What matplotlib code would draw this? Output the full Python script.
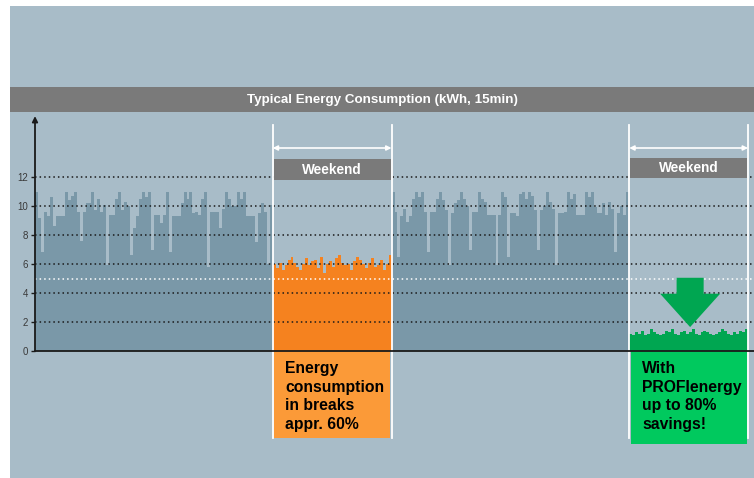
import numpy as np
import matplotlib.pyplot as plt
from matplotlib.patches import Rectangle

plt.rcParams['font.family'] = ['Liberation Sans', 'DejaVu Sans']

# 15-min energy readings (kWh): weekday, weekend, weekday, weekend
weekday1 = [11.0, 9.2, 6.8, 9.6, 9.3, 10.6, 8.6, 9.3, 9.3, 9.3,
            11.0, 10.4, 10.7, 11.0, 9.6, 7.6, 9.6, 10.2, 10.2, 11.0,
            9.7, 10.5, 9.6, 10.1, 5.9, 9.4, 9.4, 10.5, 11.0, 9.7,
            10.3, 10.0, 6.6, 8.5, 9.3, 10.5, 11.0, 10.6, 11.0, 7.0,
            9.4, 9.4, 8.8, 9.4, 11.0, 6.8, 9.3, 9.3, 9.3, 10.2,
            11.0, 10.5, 11.0, 9.5, 9.6, 9.4, 10.5, 11.0, 5.8, 9.6,
            9.6, 9.6, 8.5, 9.8, 11.0, 10.5, 10.0, 10.0, 11.0, 10.5,
            11.0, 9.3, 9.3, 9.3, 7.5, 9.5, 10.2, 9.6, 6.0, 10.1]
weekend1 = [6.0, 5.7, 6.1, 5.6, 5.9, 6.3, 6.5, 6.1, 5.8, 5.6,
            6.0, 6.4, 5.9, 6.2, 6.3, 5.7, 6.5, 5.4, 6.0, 6.2,
            5.8, 6.4, 6.6, 6.1, 5.9, 6.0, 5.6, 6.2, 6.5, 6.3,
            6.0, 5.7, 6.1, 6.4, 5.8, 5.9, 6.3, 5.6, 6.0, 6.6]
weekday2 = [11.0, 9.6, 6.5, 9.3, 9.8, 8.9, 9.3, 10.5, 11.0, 10.6,
            11.0, 9.6, 6.8, 9.6, 9.6, 10.5, 11.0, 10.4, 9.7, 5.9,
            9.5, 10.2, 10.4, 11.0, 10.5, 10.0, 7.0, 9.6, 9.6, 11.0,
            10.5, 10.3, 9.4, 9.4, 9.4, 5.9, 9.4, 11.0, 10.6, 6.5,
            9.5, 9.5, 9.3, 10.8, 11.0, 10.5, 11.0, 10.7, 9.7, 7.0,
            9.7, 10.0, 11.0, 10.3, 9.8, 5.9, 9.5, 9.5, 9.6, 11.0,
            10.5, 10.8, 9.4, 9.4, 9.4, 11.0, 10.6, 11.0, 9.9, 9.5,
            9.5, 10.2, 9.4, 10.3, 9.8, 6.8, 9.5, 10.0, 9.4, 11.0]
weekend2 = [1.2, 1.1, 1.3, 1.2, 1.4, 1.1, 1.2, 1.5, 1.3, 1.2,
            1.1, 1.2, 1.4, 1.3, 1.5, 1.2, 1.1, 1.3, 1.4, 1.2,
            1.3, 1.5, 1.2, 1.1, 1.3, 1.4, 1.3, 1.2, 1.1, 1.2,
            1.3, 1.5, 1.4, 1.2, 1.1, 1.3, 1.2, 1.4, 1.3, 1.5]

yticks = [0, 2, 4, 6, 8, 10, 12]
title = 'Typical Energy Consumption (kWh, 15min)'
note_break = 'Energy\nconsumption\nin breaks\nappr. 60%'
note_save = 'With\nPROFIenergy\nup to 80%\nsavings!'

bg = '#a8bcc8'
c_week = '#7a98a8'
c_orange = '#f5821f'
c_orange_box = '#fb9a38'
c_green = '#00a651'
c_green_box = '#00c95e'
c_grey = '#7a7a7a'

fig = plt.figure(figsize=(7.54, 4.78), dpi=100, facecolor='white')
fig.patches.append(Rectangle((10 / 754, 0), 1, 472 / 478, transform=fig.transFigure,
                             facecolor=bg, edgecolor='none', zorder=-10))
# title bar
fig.patches.append(Rectangle((10 / 754, 1 - 112 / 478), 1, 25 / 478, transform=fig.transFigure,
                             facecolor=c_grey, edgecolor='none', zorder=-5))
fig.text((10 + 754) / 2 / 754, 1 - 99.5 / 478, title, color='white', fontsize=9.6,
         fontweight='bold', ha='center', va='center')

ax = fig.add_axes([35 / 754, 1 - 351 / 478, 719 / 754, 232 / 478])
ax.set_facecolor('none')
ax.set_xlim(0, 242)
ax.set_ylim(0, 16)

n1, n2 = len(weekday1), len(weekend1)
x_wd1 = np.arange(n1)
x_we1 = n1 + np.arange(n2)
x_wd2 = n1 + n2 + np.arange(len(weekday2))
x_we2 = 2 * n1 + n2 + np.arange(len(weekend2))

kw = dict(width=1.0, align='edge', linewidth=0, zorder=2)
ax.bar(x_wd1, weekday1, color=c_week, **kw)
ax.bar(x_we1, weekend1, color=c_orange, **kw)
ax.bar(x_wd2, weekday2, color=c_week, **kw)
ax.bar(x_we2, weekend2, color=c_green, **kw)

# dotted grid
for v in yticks[1:]:
    ax.axhline(v, color='#1a1a1a', lw=1.1, ls=(0, (1, 2)), zorder=3)
ax.axhline(5, color='white', lw=1.1, ls=(0, (1, 2)), zorder=3)

# axes
ax.axhline(0, color='#1a1a1a', lw=1.3, zorder=5, clip_on=False)
ax.annotate('', xy=(0, 16.2), xytext=(0, 0), xycoords='data',
            arrowprops=dict(arrowstyle='-|>', color='#1a1a1a', lw=1.3,
                            mutation_scale=8, shrinkA=0, shrinkB=0),
            annotation_clip=False, zorder=5)
for s in ax.spines.values():
    s.set_visible(False)
ax.set_xticks([])
ax.set_yticks(yticks)
ax.tick_params(axis='y', length=3, width=1, color='#1a1a1a', labelsize=7,
               labelcolor='#3a3a3a', pad=2)

# weekend markers and note boxes
spans = [(n1, n1 + n2, c_orange_box, note_break, -6.0),
         (2 * n1 + n2, 2 * n1 + 2 * n2, c_green_box, note_save, -6.4)]
for i, (x0, x1, fc, note, ybot) in enumerate(spans):
    ax.add_patch(Rectangle((x0 + 0.5, ybot), x1 - x0 - 1, -ybot, facecolor=fc,
                           edgecolor='none', clip_on=False, zorder=4))
    for xv in (x0, x1):
        ax.plot([xv, xv], [-6.0, 15.6], color='white', lw=1.3, clip_on=False, zorder=4)
    ax.annotate('', xy=(x0, 14.0), xytext=(x1, 14.0),
                arrowprops=dict(arrowstyle='<|-|>', color='white', lw=1.2,
                                mutation_scale=7, shrinkA=0, shrinkB=0),
                annotation_clip=False, zorder=5)
    yc = 12.5 + 0.12 * i
    ax.add_patch(Rectangle((x0 + 0.3, yc - 0.72), x1 - x0 - 0.6, 1.44,
                           facecolor=c_grey, edgecolor='none', zorder=5, clip_on=False))
    ax.text((x0 + x1) / 2, yc, 'Weekend', color='white', fontsize=9.8, fontweight='bold',
            ha='center', va='center', zorder=6)
    ax.text(x0 + 4.3, -0.7, note, color='black', fontsize=11.3, fontweight='bold',
            ha='left', va='top', linespacing=1.3, zorder=6, clip_on=False)

# savings arrow
ax.arrow(220.5, 5.05, 0, -3.4, width=9.1, head_width=20.2, head_length=2.3,
         length_includes_head=True, color=c_green, linewidth=0, zorder=6)

fig.savefig('out.png', dpi=100, facecolor=fig.get_facecolor())
